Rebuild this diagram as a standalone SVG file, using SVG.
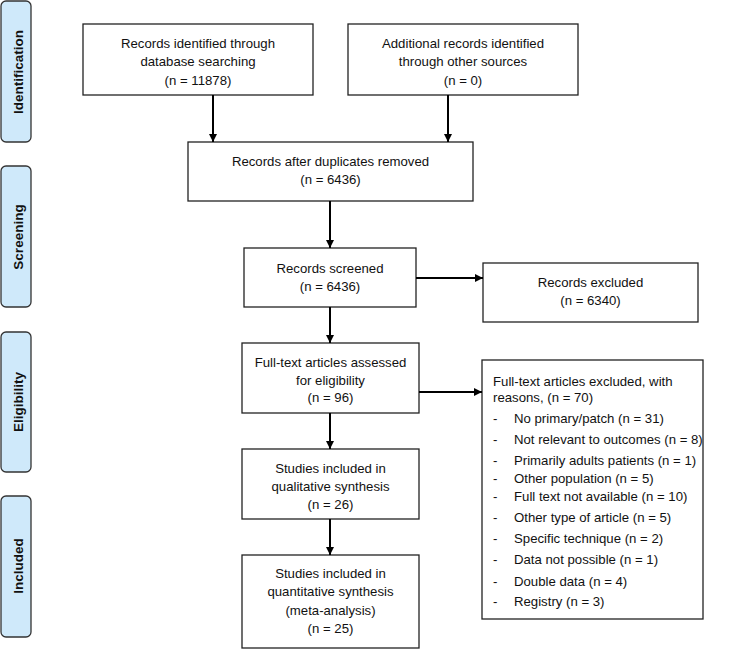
<svg xmlns="http://www.w3.org/2000/svg" width="751" height="650" viewBox="0 0 751 650">
<style>
.box{fill:#fff;stroke:#222;stroke-width:1.3}
.side{fill:#cfe9fa;stroke:#333;stroke-width:1.3}
.t{font-family:"Liberation Sans",Arial,sans-serif;font-size:13.2px;fill:#111;text-anchor:middle}
.l{font-family:"Liberation Sans",Arial,sans-serif;font-size:13.2px;fill:#111}
.s{font-family:"Liberation Sans",Arial,sans-serif;font-size:13.5px;font-weight:bold;fill:#111;text-anchor:middle}
.c{stroke:#000;stroke-width:2;fill:none;marker-end:url(#ah)}
</style>
<defs>
<marker id="ah" viewBox="0 0 10 10" refX="10" refY="5" markerWidth="4" markerHeight="4" orient="auto" markerUnits="strokeWidth">
<path d="M0,0 L10,5 L0,10 z" fill="#000"/>
</marker>
</defs>
<rect width="751" height="650" fill="#fff"/>
<g id="side-identification"><rect class="side" x="1" y="1" width="30" height="141" rx="5"/><text class="s" transform="translate(22.5,72) rotate(-90)">Identification</text></g>
<g id="side-screening"><rect class="side" x="1" y="166" width="30" height="141" rx="5"/><text class="s" transform="translate(22.5,237) rotate(-90)">Screening</text></g>
<g id="side-eligibility"><rect class="side" x="1" y="332" width="30" height="140" rx="5"/><text class="s" transform="translate(22.5,402) rotate(-90)">Eligibility</text></g>
<g id="side-included"><rect class="side" x="1" y="496" width="30" height="141" rx="5"/><text class="s" transform="translate(22.5,566) rotate(-90)">Included</text></g>

<g id="n-db"><rect class="box" x="83" y="24" width="230" height="71"/>
<text class="t" x="198" y="48">Records identified through</text>
<text class="t" x="198" y="66">database searching</text>
<text class="t" x="198" y="85">(n = 11878)</text></g>
<g id="n-other"><rect class="box" x="348" y="24" width="230" height="71"/>
<text class="t" x="463" y="48">Additional records identified</text>
<text class="t" x="463" y="66">through other sources</text>
<text class="t" x="463" y="85">(n = 0)</text></g>
<g id="n-dup"><rect class="box" x="188" y="142" width="285" height="59"/>
<text class="t" x="330.5" y="166">Records after duplicates removed</text>
<text class="t" x="330.5" y="184">(n = 6436)</text></g>
<g id="n-screened"><rect class="box" x="244" y="248" width="172" height="59"/>
<text class="t" x="330" y="273">Records screened</text>
<text class="t" x="330" y="291">(n = 6436)</text></g>
<g id="n-excluded"><rect class="box" x="483" y="263" width="215" height="59"/>
<text class="t" x="590.5" y="287">Records excluded</text>
<text class="t" x="590.5" y="305">(n = 6340)</text></g>
<g id="n-fulltext"><rect class="box" x="242" y="343" width="177" height="70"/>
<text class="t" x="330.5" y="367">Full-text articles assessed</text>
<text class="t" x="330.5" y="385">for eligibility</text>
<text class="t" x="330.5" y="402">(n = 96)</text></g>
<g id="n-ftexcluded"><rect class="box" x="482" y="360" width="221" height="259"/>
<text class="l" x="493" y="386">Full-text articles excluded, with</text>
<text class="l" x="493" y="402">reasons, (n = 70)</text>
<text class="l" x="493" y="423">-</text><text class="l" x="514" y="423">No primary/patch (n = 31)</text>
<text class="l" x="493" y="444">-</text><text class="l" x="514" y="444">Not relevant to outcomes (n = 8)</text>
<text class="l" x="493" y="465">-</text><text class="l" x="514" y="465">Primarily adults patients  (n = 1)</text>
<text class="l" x="493" y="483">-</text><text class="l" x="514" y="483">Other population (n = 5)</text>
<text class="l" x="493" y="501">-</text><text class="l" x="514" y="501">Full text not available  (n = 10)</text>
<text class="l" x="493" y="522">-</text><text class="l" x="514" y="522">Other type of article  (n = 5)</text>
<text class="l" x="493" y="543">-</text><text class="l" x="514" y="543">Specific technique (n = 2)</text>
<text class="l" x="493" y="564">-</text><text class="l" x="514" y="564">Data not possible (n = 1)</text>
<text class="l" x="493" y="586">-</text><text class="l" x="514" y="586">Double data (n = 4)</text>
<text class="l" x="493" y="606">-</text><text class="l" x="514" y="606">Registry (n = 3)</text></g>
<g id="n-qual"><rect class="box" x="242" y="449" width="177" height="70"/>
<text class="t" x="330.5" y="473">Studies included in</text>
<text class="t" x="330.5" y="491">qualitative synthesis</text>
<text class="t" x="330.5" y="509">(n = 26)</text></g>
<g id="n-quant"><rect class="box" x="242" y="555" width="177" height="93"/>
<text class="t" x="330.5" y="578">Studies included in</text>
<text class="t" x="330.5" y="596">quantitative synthesis</text>
<text class="t" x="330.5" y="615">(meta-analysis)</text>
<text class="t" x="330.5" y="633">(n = 25)</text></g>

<g id="connectors">
<line class="c" x1="213" y1="95" x2="213" y2="142"/>
<line class="c" x1="448" y1="95" x2="448" y2="142"/>
<line class="c" x1="330" y1="201" x2="330" y2="248"/>
<line class="c" x1="416" y1="278" x2="483" y2="278"/>
<line class="c" x1="330" y1="307" x2="330" y2="343"/>
<line class="c" x1="419" y1="392" x2="482" y2="392"/>
<line class="c" x1="330" y1="413" x2="330" y2="449"/>
<line class="c" x1="330" y1="519" x2="330" y2="555"/>
</g>
</svg>
